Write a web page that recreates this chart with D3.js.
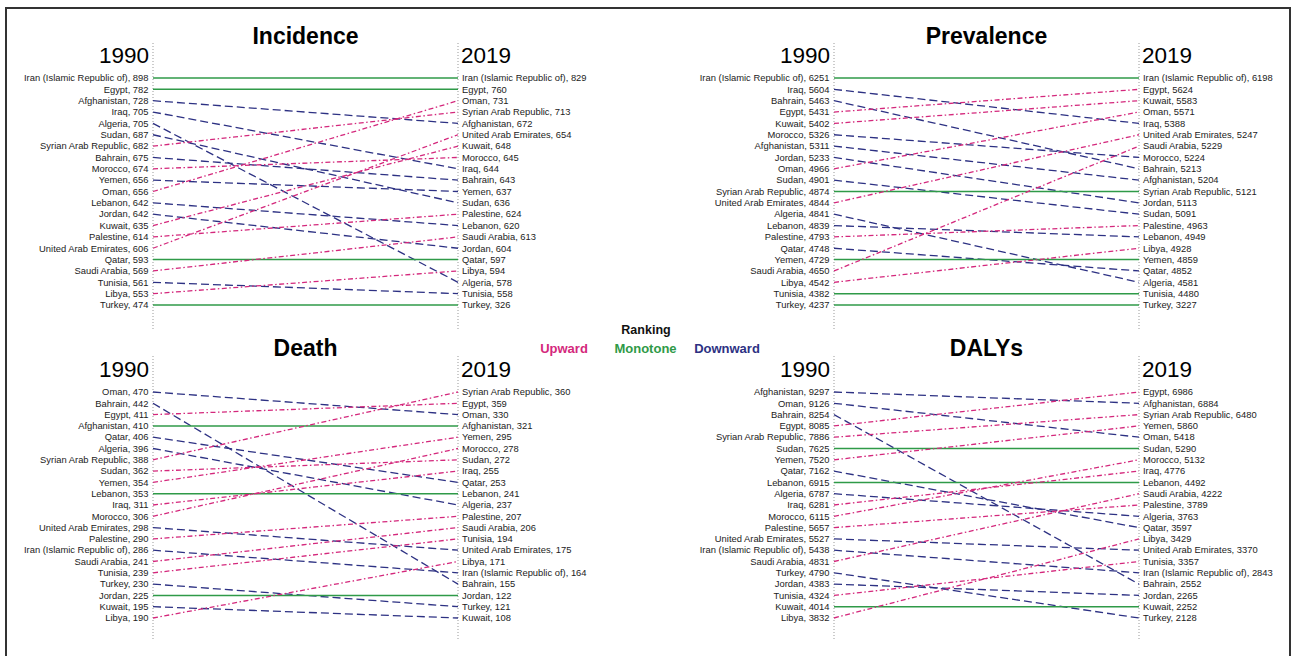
<!DOCTYPE html>
<html>
<head>
<meta charset="utf-8">
<script src="https://cdn.jsdelivr.net/npm/d3@7"></script>
<style>
  html, body { margin: 0; padding: 0; background: #ffffff; }
  svg { display: block; font-family: "Liberation Sans", Arial, Helvetica, sans-serif; }
</style>
</head>
<body>
<svg id="chart" width="1292" height="656"></svg>
<script>
// ---------------- DATA ----------------
const incidenceNames1990 = ["Iran (Islamic Republic of)", "Egypt", "Afghanistan", "Iraq", "Algeria", "Sudan", "Syrian Arab Republic", "Bahrain", "Morocco", "Yemen", "Oman", "Lebanon", "Jordan", "Kuwait", "Palestine", "United Arab Emirates", "Qatar", "Saudi Arabia", "Tunisia", "Libya", "Turkey"];
const incidenceValues1990 = [898, 782, 728, 705, 705, 687, 682, 675, 674, 656, 656, 642, 642, 635, 614, 606, 593, 569, 561, 553, 474];
const incidenceNames2019 = ["Iran (Islamic Republic of)", "Egypt", "Oman", "Syrian Arab Republic", "Afghanistan", "United Arab Emirates", "Kuwait", "Morocco", "Iraq", "Bahrain", "Yemen", "Sudan", "Palestine", "Lebanon", "Saudi Arabia", "Jordan", "Qatar", "Libya", "Algeria", "Tunisia", "Turkey"];
const incidenceValues2019 = [829, 760, 731, 713, 672, 654, 648, 645, 644, 643, 637, 636, 624, 620, 613, 604, 597, 594, 578, 558, 326];

const prevalenceNames1990 = ["Iran (Islamic Republic of)", "Iraq", "Bahrain", "Egypt", "Kuwait", "Morocco", "Afghanistan", "Jordan", "Oman", "Sudan", "Syrian Arab Republic", "United Arab Emirates", "Algeria", "Lebanon", "Palestine", "Qatar", "Yemen", "Saudi Arabia", "Libya", "Tunisia", "Turkey"];
const prevalenceValues1990 = [6251, 5604, 5463, 5431, 5402, 5326, 5311, 5233, 4966, 4901, 4874, 4844, 4841, 4839, 4793, 4748, 4729, 4650, 4542, 4382, 4237];
const prevalenceNames2019 = ["Iran (Islamic Republic of)", "Egypt", "Kuwait", "Oman", "Iraq", "United Arab Emirates", "Saudi Arabia", "Morocco", "Bahrain", "Afghanistan", "Syrian Arab Republic", "Jordan", "Sudan", "Palestine", "Lebanon", "Libya", "Yemen", "Qatar", "Algeria", "Tunisia", "Turkey"];
const prevalenceValues2019 = [6198, 5624, 5583, 5571, 5388, 5247, 5229, 5224, 5213, 5204, 5121, 5113, 5091, 4963, 4949, 4928, 4859, 4852, 4581, 4480, 3227];

const deathNames1990 = ["Oman", "Bahrain", "Egypt", "Afghanistan", "Qatar", "Algeria", "Syrian Arab Republic", "Sudan", "Yemen", "Lebanon", "Iraq", "Morocco", "United Arab Emirates", "Palestine", "Iran (Islamic Republic of)", "Saudi Arabia", "Tunisia", "Turkey", "Jordan", "Kuwait", "Libya"];
const deathValues1990 = [470, 442, 411, 410, 406, 396, 388, 362, 354, 353, 311, 306, 298, 290, 286, 241, 239, 230, 225, 195, 190];
const deathNames2019 = ["Syrian Arab Republic", "Egypt", "Oman", "Afghanistan", "Yemen", "Morocco", "Sudan", "Iraq", "Qatar", "Lebanon", "Algeria", "Palestine", "Saudi Arabia", "Tunisia", "United Arab Emirates", "Libya", "Iran (Islamic Republic of)", "Bahrain", "Jordan", "Turkey", "Kuwait"];
const deathValues2019 = [360, 359, 330, 321, 295, 278, 272, 255, 253, 241, 237, 207, 206, 194, 175, 171, 164, 155, 122, 121, 108];

const dalysNames1990 = ["Afghanistan", "Oman", "Bahrain", "Egypt", "Syrian Arab Republic", "Sudan", "Yemen", "Qatar", "Lebanon", "Algeria", "Iraq", "Morocco", "Palestine", "United Arab Emirates", "Iran (Islamic Republic of)", "Saudi Arabia", "Turkey", "Jordan", "Tunisia", "Kuwait", "Libya"];
const dalysValues1990 = [9297, 9126, 8254, 8085, 7886, 7625, 7520, 7162, 6915, 6787, 6281, 6115, 5657, 5527, 5438, 4831, 4790, 4383, 4324, 4014, 3832];
const dalysNames2019 = ["Egypt", "Afghanistan", "Syrian Arab Republic", "Yemen", "Oman", "Sudan", "Morocco", "Iraq", "Lebanon", "Saudi Arabia", "Palestine", "Algeria", "Qatar", "Libya", "United Arab Emirates", "Tunisia", "Iran (Islamic Republic of)", "Bahrain", "Jordan", "Kuwait", "Turkey"];
const dalysValues2019 = [6986, 6884, 6480, 5860, 5418, 5290, 5132, 4776, 4492, 4222, 3789, 3763, 3597, 3429, 3370, 3357, 2843, 2552, 2265, 2252, 2128];

const panelTitles = ["Incidence", "Prevalence", "Death", "DALYs"];
const yearLabels = ["1990", "2019"];
const legendTitle = "Ranking";
const legendLabels = ["Upward", "Monotone", "Downward"];

// ---------------- STYLE ----------------
const colors = { Upward: "#d4287c", Monotone: "#2f9a48", Downward: "#2d3183" };
const dashes = { Upward: "5,2.5,1.5,2.5", Monotone: null, Downward: "8,4" };

const panels = [
  { title: panelTitles[0], n1: incidenceNames1990, v1: incidenceValues1990, n2: incidenceNames2019, v2: incidenceValues2019, x0: 153, x1: 458, top: 78, bottom: 305, titleY: 44, yearY: 63, axTop: 43, axBot: 330 },
  { title: panelTitles[1], n1: prevalenceNames1990, v1: prevalenceValues1990, n2: prevalenceNames2019, v2: prevalenceValues2019, x0: 834, x1: 1139, top: 78, bottom: 305, titleY: 44, yearY: 63, axTop: 43, axBot: 330 },
  { title: panelTitles[2], n1: deathNames1990, v1: deathValues1990, n2: deathNames2019, v2: deathValues2019, x0: 153, x1: 458, top: 392, bottom: 618, titleY: 356, yearY: 377, axTop: 356, axBot: 640 },
  { title: panelTitles[3], n1: dalysNames1990, v1: dalysValues1990, n2: dalysNames2019, v2: dalysValues2019, x0: 834, x1: 1139, top: 392, bottom: 618, titleY: 356, yearY: 377, axTop: 356, axBot: 640 }
];

const svg = d3.select("#chart");

// outer frame
svg.append("rect")
  .attr("x", 6).attr("y", 8).attr("width", 1284).attr("height", 660)
  .attr("fill", "none").attr("stroke", "#333").attr("stroke-width", 2);

panels.forEach(p => {
  const g = svg.append("g");
  const idx = d3.range(p.n1.length);
  const y = d3.scalePoint().domain(idx).range([p.top, p.bottom]);
  const x = d3.scalePoint().domain(yearLabels).range([p.x0, p.x1]);

  // dotted axes
  yearLabels.forEach(yr => {
    g.append("line")
      .attr("x1", x(yr)).attr("x2", x(yr))
      .attr("y1", p.axTop).attr("y2", p.axBot)
      .attr("stroke", "#999").attr("stroke-width", 1)
      .attr("stroke-dasharray", "1,2");
  });

  // title
  g.append("text")
    .attr("x", (x(yearLabels[0]) + x(yearLabels[1])) / 2)
    .attr("y", p.titleY)
    .attr("text-anchor", "middle")
    .attr("font-weight", "bold")
    .attr("font-size", 23)
    .text(p.title);

  // year labels
  g.append("text").attr("x", x(yearLabels[0]) - 4).attr("y", p.yearY)
    .attr("text-anchor", "end").attr("font-size", 22.5).text(yearLabels[0]);
  g.append("text").attr("x", x(yearLabels[1]) + 3).attr("y", p.yearY)
    .attr("text-anchor", "start").attr("font-size", 22.5).text(yearLabels[1]);

  // links
  const links = p.n1.map((name, i) => {
    const j = p.n2.indexOf(name);
    const dir = j < i ? "Upward" : (j === i ? "Monotone" : "Downward");
    return { name, i, j, dir };
  });

  const lineGen = d3.line().x(d => d[0]).y(d => d[1]);
  g.selectAll("path.link")
    .data(links)
    .join("path")
    .attr("class", "link")
    .attr("d", d => lineGen([[x(yearLabels[0]), y(d.i)], [x(yearLabels[1]), y(d.j)]]))
    .attr("fill", "none")
    .attr("stroke", d => colors[d.dir])
    .attr("stroke-width", d => d.dir === "Monotone" ? 1.5 : 1.3)
    .attr("stroke-dasharray", d => dashes[d.dir]);

  // left labels
  g.selectAll("text.l1")
    .data(idx)
    .join("text")
    .attr("class", "l1")
    .attr("x", x(yearLabels[0]) - 4.5)
    .attr("y", i => y(i))
    .attr("dy", "0.35em")
    .attr("text-anchor", "end")
    .attr("font-size", 9.4)
    .attr("fill", "#222")
    .text(i => p.n1[i] + ", " + p.v1[i]);

  // right labels
  g.selectAll("text.l2")
    .data(idx)
    .join("text")
    .attr("class", "l2")
    .attr("x", x(yearLabels[1]) + 4)
    .attr("y", i => y(i))
    .attr("dy", "0.35em")
    .attr("text-anchor", "start")
    .attr("font-size", 9.4)
    .attr("fill", "#222")
    .text(i => p.n2[i] + ", " + p.v2[i]);
});

// legend
const lg = svg.append("g");
lg.append("text").attr("x", 646).attr("y", 334).attr("text-anchor", "middle")
  .attr("font-weight", "bold").attr("font-size", 12.5).attr("fill", "#111").text(legendTitle);
const legendX = d3.scalePoint().domain(legendLabels).range([564, 727]);
lg.selectAll("text.leg")
  .data(legendLabels)
  .join("text")
  .attr("class", "leg")
  .attr("x", d => legendX(d))
  .attr("y", 353)
  .attr("text-anchor", "middle")
  .attr("font-weight", "bold")
  .attr("font-size", 13)
  .attr("fill", d => colors[d])
  .text(d => d);
</script>
</body>
</html>
